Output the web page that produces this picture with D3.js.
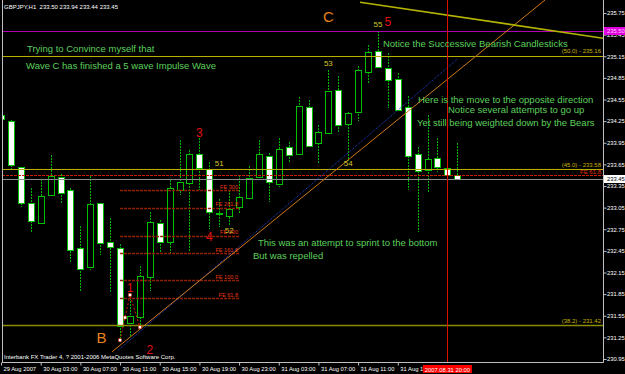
<!DOCTYPE html>
<html>
<head>
<meta charset="utf-8">
<script src="https://cdn.jsdelivr.net/npm/d3@7"></script>
<style>
body { margin: 0; background: #000; }
svg { display: block; font-family: "Liberation Sans", Arial, sans-serif; }
</style>
</head>
<body>
<svg id="chart" width="625" height="374"></svg>
<script>
// GBPJPY H1, first bar 29 Aug 2007 23:00, one bar per hour
var firstBar = Date.UTC(2007, 7, 29, 23)

var opens  = [234.34, 234.25, 233.61, 233.11, 232.84, 233.23, 233.47, 233.29, 232.49, 232.23,
              233.11, 232.57, 232.49, 231.45, 231.53, 232.09, 232.84, 232.57, 233.29, 233.39,
              233.79, 233.59, 232.96, 232.93, 233.06, 233.18, 233.47, 233.77, 233.38, 233.89,
              233.79, 234.45, 233.95, 234.09, 234.68, 234.21, 234.38, 234.93, 235.22, 234.99,
              234.83, 234.45, 233.79, 233.57, 233.74, 233.60, 233.50]
var highs  = [234.50, 234.27, 233.62, 233.32, 233.45, 233.78, 233.52, 233.32, 232.80, 233.49,
              233.12, 232.91, 232.55, 231.84, 232.24, 232.99, 232.88, 233.43, 233.99, 233.85,
              234.02, 233.68, 233.17, 233.29, 233.50, 233.63, 233.99, 233.81, 234.02, 233.96,
              234.58, 234.54, 234.20, 234.96, 234.88, 234.37, 235.01, 235.31, 235.50, 235.19,
              234.92, 234.60, 233.89, 234.33, 234.02, 233.61, 233.94]
var lows   = [234.17, 233.57, 233.06, 232.70, 232.82, 233.20, 233.11, 232.28, 231.88, 232.18,
              232.39, 231.87, 231.21, 231.25, 231.39, 231.89, 232.42, 232.39, 233.22, 232.43,
              233.29, 232.75, 232.78, 232.79, 232.98, 233.17, 233.43, 233.13, 233.34, 233.67,
              233.78, 233.88, 233.67, 234.08, 234.09, 233.70, 234.25, 234.78, 234.99, 234.43,
              234.39, 233.29, 232.71, 233.27, 233.54, 233.49, 233.44]
var closes = [234.28, 233.64, 233.11, 232.86, 233.21, 233.49, 233.25, 232.46, 232.20, 233.10,
              232.56, 232.50, 231.41, 231.55, 232.10, 232.85, 232.57, 233.32, 233.41, 233.79,
              233.60, 232.99, 232.97, 233.03, 233.20, 233.46, 233.79, 233.41, 233.86, 233.78,
              234.46, 233.90, 234.10, 234.67, 234.20, 234.36, 234.96, 235.21, 235.00, 234.82,
              234.40, 233.77, 233.56, 233.72, 233.61, 233.50, 233.45]

var priceTicks = [235.75, 235.45, 235.15, 234.85, 234.55, 234.25, 233.95, 233.65, 233.35,
                  233.05, 232.75, 232.45, 232.15, 231.85, 231.55, 231.25, 230.95]
var timeTickBars = [0, 4, 8, 12, 16, 20, 24, 28, 32, 36, 40]

// fibo retracement levels
var fiboNames  = ["(50.0)", "(45.0)", "(38.2)"]
var fiboPrices = [235.16, 233.58, 231.42]
// fibo expansion on the B-1-2 swing
var feNames  = ["FE 300", "FE 261.8", "FE 200", "FE 161.8", "FE 100.0", "FE 61.8"]
var fePrices = [233.29, 233.05, 232.66, 232.42, 232.04, 231.79]
var feFromBar = 12, feToBar = 24
var fe2Name = "FE 61.8", fe2Price = 233.50
var highLine = 235.50
var markerBar = 45

// swing points B, 1, 2 (bar, price)
var swingBars   = [12, 13, 14]
var swingPrices = [231.21, 231.84, 231.39]

// trend lines [bar, price] pairs
var blueLine   = [[11.8, 231.07], [46, 235.11]]
var orangeLine = [[11.19, 231.05], [54.84, 235.93]]
var yellowLine = [[36.19, 235.90], [60.7, 235.40]]

// wave labels
var waveText   = ["C", "B", "5", "3", "4", "1", "2", "55", "53", "54", "51", "52"]
var waveBars   = [33, 10.13, 39, 20, 21, 13, 15, 38, 33, 35, 22, 23]
var wavePrices = [235.63, 231.17, 235.57, 234.03, 232.59, 231.88, 231.02, 235.56, 235.01, 233.63, 233.63, 232.70]

// comments written on the chart
var notes = ["Trying to Convince myself that",
             "Wave C has finished a 5 wave Impulse Wave",
             "Notice the Successive Bearish Candlesticks",
             "Here is the move to the opposite direction",
             "Notice several attempts to go up",
             "Yet still being weighted down by the Bears",
             "This was an attempt to sprint to the bottom",
             "But was repelled"]
var noteBars   = [2.62, 2.52, 38.5, 42.03, 45.06, 41.93, 25.9, 25.4]
var notePrices = [235.21, 234.98, 235.28, 234.50, 234.36, 234.18, 232.52, 232.34]

var svg = d3.select("#chart")
var W = 625, H = 374
var plot = {left: 2, right: 603, top: 0, bottom: 362}

var x = d3.scaleLinear().domain([0, 45]).range([1.02, 447.4])
var y = d3.scaleLinear().domain([230.95, 235.75]).range([359, 13])
var px = v => Math.round(v) + 0.5
var barTime = i => new Date(firstBar + i * 3600000)

svg.append("rect").attr("width", W).attr("height", H).attr("fill", "#000")

svg.append("defs").append("clipPath").attr("id", "plotclip").append("rect")
    .attr("x", plot.left + 1).attr("y", plot.top)
    .attr("width", plot.right - plot.left - 1).attr("height", plot.bottom - plot.top)

var g = svg.append("g").attr("clip-path", "url(#plotclip)")

var bars = opens.map((o, i) => ({i: i, o: o, h: highs[i], l: lows[i], c: closes[i]}))

g.selectAll("line.wick").data(bars).enter().append("line")
    .attr("class", "wick")
    .attr("x1", d => px(x(d.i))).attr("x2", d => px(x(d.i)))
    .attr("y1", d => Math.round(y(d.h))).attr("y2", d => Math.round(y(d.l)))
    .attr("stroke", "#00b400").attr("stroke-width", 1)
    .attr("stroke-dasharray", "2,1")

g.selectAll("rect.body").data(bars).enter().append("rect")
    .attr("class", "body")
    .attr("x", d => Math.round(x(d.i)) - 3 + 0.5)
    .attr("width", 6)
    .attr("y", d => Math.round(y(Math.max(d.o, d.c))) + 0.5)
    .attr("height", d => Math.max(1, Math.round(y(Math.min(d.o, d.c))) - Math.round(y(Math.max(d.o, d.c)))))
    .attr("fill", d => d.c < d.o ? "#ffffff" : "#000000")
    .attr("stroke", "#00c000").attr("stroke-width", 1)

// horizontal levels
function hline(price, color, width, dash) {
    g.append("line")
        .attr("x1", plot.left).attr("x2", plot.right)
        .attr("y1", px(y(price))).attr("y2", px(y(price)))
        .attr("stroke", color).attr("stroke-width", width)
        .attr("stroke-dasharray", dash || null)
}
hline(highLine, "#b000b0", 1)
fiboPrices.forEach((p, i) => hline(p, i == 2 ? "#8c8c00" : "#b8b000", i == 2 ? 1.5 : 1))
hline(fe2Price, "#c82000", 1, "3,1")
hline(closes[closes.length - 1], "#8c8c8c", 1)

fiboPrices.forEach((p, i) => {
    g.append("text").attr("x", 601).attr("y", y(p) - 2.5)
        .attr("text-anchor", "end").attr("fill", "#c8b400").style("font-size", "6px")
        .text(fiboNames[i] + " - " + p.toFixed(2))
})
g.append("text").attr("x", 601).attr("y", y(fe2Price) - 1)
    .attr("text-anchor", "end").attr("fill", "#e03010").style("font-size", "6px")
    .text(fe2Name)

// fibo expansion short levels
fePrices.forEach((p, i) => {
    g.append("line")
        .attr("x1", x(feFromBar)).attr("x2", x(feToBar))
        .attr("y1", px(y(p))).attr("y2", px(y(p)))
        .attr("stroke", "#922000").attr("stroke-width", 1.3).attr("stroke-dasharray", "3,1")
    g.append("text").attr("x", x(feToBar) - 1).attr("y", y(p) - 1.5)
        .attr("text-anchor", "end").attr("fill", "#e83818").style("font-size", "5.6px")
        .text(feNames[i])
})

// trend lines
function tline(pts, color, dash) {
    g.append("line")
        .attr("x1", x(pts[0][0])).attr("y1", y(pts[0][1]))
        .attr("x2", x(pts[1][0])).attr("y2", y(pts[1][1]))
        .attr("stroke", color).attr("stroke-width", 1)
        .attr("stroke-dasharray", dash || null)
}
tline(blueLine, "#2040d0", "1,1")
tline(orangeLine, "#d07818")
g.append("line")
    .attr("x1", x(yellowLine[0][0])).attr("y1", y(yellowLine[0][1]))
    .attr("x2", x(yellowLine[1][0])).attr("y2", y(yellowLine[1][1]))
    .attr("stroke", "#b4b400").attr("stroke-width", 1.6)

// vertical time marker
g.append("line")
    .attr("x1", px(x(markerBar))).attr("x2", px(x(markerBar)))
    .attr("y1", plot.top).attr("y2", plot.bottom)
    .attr("stroke", "#e01000").attr("stroke-width", 1)

// B-1-2 swing used for the expansion
var swing = swingBars.map((b, i) => [x(b), y(swingPrices[i])])
g.append("path").attr("d", d3.line()(swing))
    .attr("fill", "none").attr("stroke", "#d02000").attr("stroke-width", 1)
    .attr("stroke-dasharray", "2,2")
var handles = swing.concat([[(swing[0][0] + swing[1][0]) / 2, (swing[0][1] + swing[1][1]) / 2]])
g.selectAll("rect.handle").data(handles).enter().append("rect")
    .attr("x", d => d[0] - 1.5).attr("y", d => d[1] - 1.5)
    .attr("width", 3).attr("height", 3)
    .attr("fill", "#ffffff").attr("stroke", "#d02000").attr("stroke-width", 0.5)

// wave labels
waveText.forEach((t, i) => {
    var big = t == "C" || t == "B"
    var red = !big && t.length == 1
    g.append("text")
        .attr("x", x(waveBars[i])).attr("y", y(wavePrices[i]))
        .attr("text-anchor", "middle")
        .attr("fill", big ? "#e8801c" : red ? "#e01010" : "#d4c42c")
        .style("font-size", big ? "15px" : red ? "12px" : "8px")
        .text(t)
})

notes.forEach((t, i) => {
    g.append("text")
        .attr("x", x(noteBars[i])).attr("y", y(notePrices[i]))
        .attr("fill", "#5cd05c").style("font-size", "9.5px")
        .text(t)
})

// frame
svg.append("line").attr("x1", plot.left + 0.5).attr("x2", plot.left + 0.5)
    .attr("y1", plot.top).attr("y2", plot.bottom).attr("stroke", "#c0c0c0")
svg.append("line").attr("x1", plot.left).attr("x2", plot.right + 0.5)
    .attr("y1", plot.bottom + 0.5).attr("y2", plot.bottom + 0.5).attr("stroke", "#c0c0c0")
svg.append("line").attr("x1", plot.right + 0.5).attr("x2", plot.right + 0.5)
    .attr("y1", plot.top).attr("y2", plot.bottom + 0.5).attr("stroke", "#c0c0c0")

var yAxis = d3.axisRight(y).tickValues(priceTicks).tickSize(3).tickFormat(d3.format(".2f"))
var ya = svg.append("g").attr("transform", "translate(" + (plot.right + 0.5) + ",0)").call(yAxis)
ya.select(".domain").remove()
ya.selectAll("line").attr("stroke", "#c0c0c0")
ya.selectAll("text").attr("x", 3.5).attr("fill", "#ffffff")
    .style("font-size", "5.8px").style("font-family", "Liberation Sans, Arial, sans-serif")

var fmtDay = d3.utcFormat("%d %b %Y"), fmtHour = d3.utcFormat("%d %b %H:%M")
var xAxis = d3.axisBottom(x).tickValues(timeTickBars).tickSize(3)
    .tickFormat((d, i) => i == 0 ? fmtDay(barTime(d)) : fmtHour(barTime(d)))
var xa = svg.append("g").attr("transform", "translate(0," + (plot.bottom + 0.5) + ")").call(xAxis)
xa.select(".domain").remove()
xa.selectAll("line").attr("stroke", "#c0c0c0")
xa.selectAll("text").attr("x", 2).attr("y", 4).attr("dy", "0.71em")
    .attr("text-anchor", "start").attr("fill", "#ffffff")
    .style("font-size", "5.8px").style("font-family", "Liberation Sans, Arial, sans-serif")

// price boxes on the scale
function priceBox(price, bg, fg) {
    svg.append("rect").attr("x", plot.right + 1).attr("y", Math.round(y(price)) - 4)
        .attr("width", W - plot.right - 1).attr("height", 8).attr("fill", bg)
    svg.append("text").attr("x", plot.right + 4).attr("y", Math.round(y(price)) + 2.2)
        .attr("fill", fg).style("font-size", "5.8px").text(price.toFixed(2))
}
priceBox(highLine, "#e000e0", "#ffd0ff")
priceBox(closes[closes.length - 1], "#ffffff", "#000000")

// time box of the vertical marker
var mx = x(markerBar)
svg.append("rect").attr("x", mx - 24.5).attr("y", plot.bottom + 3).attr("width", 49).attr("height", 8)
    .attr("fill", "#ff0000")
svg.append("text").attr("x", mx).attr("y", plot.bottom + 9.5).attr("text-anchor", "middle")
    .attr("fill", "#ffffff").style("font-size", "5.8px")
    .text(d3.utcFormat("%Y.%m.%d %H:%M")(barTime(markerBar)))

// header and footer
var last = bars.length - 1
svg.append("text").attr("x", 4).attr("y", 9).attr("fill", "#ffffff").style("font-size", "6px")
    .attr("xml:space", "preserve")
    .text("GBPJPY,H1  " + [opens[last], highs[last], lows[last], closes[last]].map(v => v.toFixed(2)).join(" "))
svg.append("text").attr("x", 4).attr("y", 359).attr("fill", "#ffffff").style("font-size", "6px")
    .text("Interbank FX Trader 4, ? 2001-2006 MetaQuotes Software Corp.")
</script>
</body>
</html>
